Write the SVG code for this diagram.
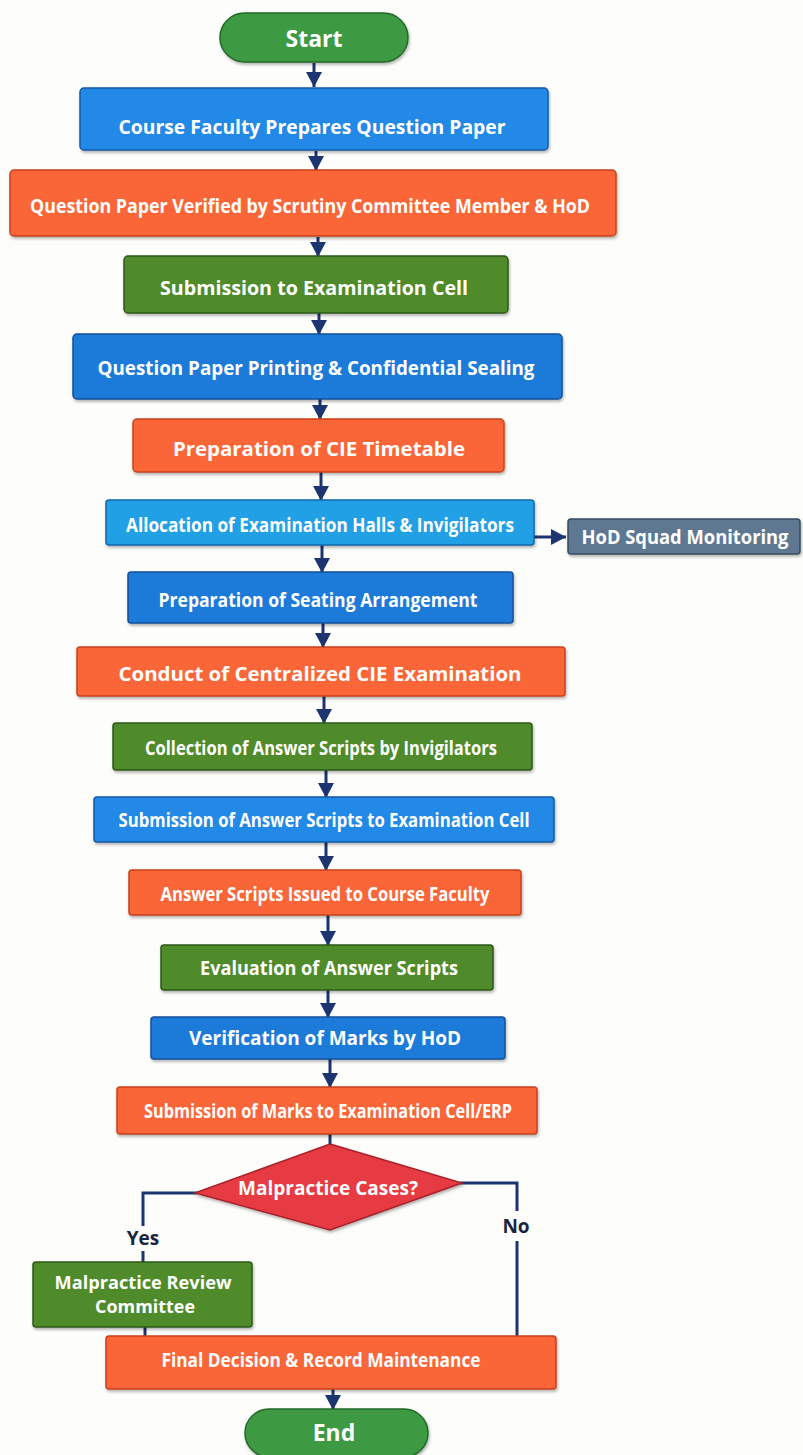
<svg xmlns="http://www.w3.org/2000/svg" width="803" height="1455" viewBox="0 0 803 1455">
<defs>
<marker id="ah" markerUnits="userSpaceOnUse" markerWidth="18" markerHeight="18" refX="15" refY="8" orient="auto">
<path d="M0,0 L15,8 L0,16 Z" fill="#1c3470"/>
</marker>
<filter id="sh" x="-5%" y="-10%" width="110%" height="130%">
<feDropShadow dx="1" dy="2" stdDeviation="1.5" flood-color="#000" flood-opacity="0.3"/>
</filter>
<style>
.t{font-family:"Open Sans","Liberation Sans",sans-serif;font-weight:bold;fill:#fff;text-anchor:middle;dominant-baseline:central;font-size:19px}
.lb{font-family:"Open Sans","Liberation Sans",sans-serif;font-weight:bold;fill:#1a2440;text-anchor:middle;dominant-baseline:central;font-size:19px}
.box{filter:url(#sh);stroke-width:1.5}
.blue{fill:#2189e6;stroke:#1559a8}
.blue2{fill:#1c7ad9;stroke:#12509a}
.lblue{fill:#22a0e6;stroke:#1268a8}
.orange{fill:#fb6639;stroke:#c9421c}
.green{fill:#4f8b2c;stroke:#2f5a17}
.pill{fill:#3e9a42;stroke:#24692a}
.gray{fill:#5e7892;stroke:#384c60}
.red{fill:#e63a43;stroke:#a8222a}
.c{stroke:#1c3470;stroke-width:3;fill:none}
.ca{stroke:#1c3470;stroke-width:3;fill:none;marker-end:url(#ah)}
</style>
</defs>
<rect width="803" height="1455" fill="#fdfdfb"/>

<g id="connectors">
<line class="ca" x1="314" y1="63" x2="314" y2="87"/>
<line class="ca" x1="316" y1="151" x2="316" y2="171"/>
<line class="ca" x1="318" y1="237" x2="318" y2="257"/>
<line class="ca" x1="319" y1="313" x2="319" y2="335"/>
<line class="ca" x1="320" y1="399" x2="320" y2="420"/>
<line class="ca" x1="321" y1="472" x2="321" y2="501"/>
<line class="ca" x1="322" y1="545" x2="322" y2="573"/>
<line class="ca" x1="323" y1="623" x2="323" y2="648"/>
<line class="ca" x1="324" y1="696" x2="324" y2="724"/>
<line class="ca" x1="326" y1="770" x2="326" y2="798"/>
<line class="ca" x1="326" y1="842" x2="326" y2="871"/>
<line class="ca" x1="328" y1="915" x2="328" y2="946"/>
<line class="ca" x1="328" y1="990" x2="328" y2="1018"/>
<line class="ca" x1="330" y1="1059" x2="330" y2="1088"/>
<line class="c" x1="330" y1="1134" x2="330" y2="1146"/>
<line class="ca" x1="534" y1="537" x2="566" y2="537"/>
<path class="c" d="M197,1193 H143 V1226"/>
<line class="c" x1="143" y1="1251" x2="143" y2="1264"/>
<line class="c" x1="145" y1="1326" x2="145" y2="1350"/>
<path class="c" d="M460,1183 H517 V1211"/>
<line class="c" x1="517" y1="1241" x2="517" y2="1337"/>
<line class="ca" x1="333" y1="1389" x2="333" y2="1410"/>
</g>

<g id="start"><rect class="box pill" x="220" y="13" width="188" height="49" rx="24.5"/><text class="t" x="314" y="38" style="font-size:23px">Start</text></g>
<g id="n1"><rect class="box blue" x="80" y="88" width="468" height="62" rx="4"/><text class="t" x="312" y="127" textLength="387" lengthAdjust="spacingAndGlyphs">Course Faculty Prepares Question Paper</text></g>
<g id="n2"><rect class="box orange" x="10" y="170" width="606" height="66" rx="4"/><text class="t" x="310" y="206" textLength="560" lengthAdjust="spacingAndGlyphs">Question Paper Verified by Scrutiny Committee Member &amp; HoD</text></g>
<g id="n3"><rect class="box green" x="124" y="256" width="384" height="57" rx="4"/><text class="t" x="314" y="288" textLength="308" lengthAdjust="spacingAndGlyphs">Submission to Examination Cell</text></g>
<g id="n4"><rect class="box blue2" x="73" y="334" width="489" height="65" rx="4"/><text class="t" x="316" y="368" textLength="437" lengthAdjust="spacingAndGlyphs">Question Paper Printing &amp; Confidential Sealing</text></g>
<g id="n5"><rect class="box orange" x="133" y="419" width="371" height="53" rx="4"/><text class="t" x="319" y="449" textLength="292" lengthAdjust="spacingAndGlyphs">Preparation of CIE Timetable</text></g>
<g id="n6"><rect class="box lblue" x="106" y="500" width="428" height="45" rx="3"/><text class="t" x="320" y="525" textLength="388" lengthAdjust="spacingAndGlyphs">Allocation of Examination Halls &amp; Invigilators</text></g>
<g id="n6b"><rect class="box gray" x="568" y="519" width="232" height="35" rx="3"/><text class="t" x="685" y="537" textLength="207" lengthAdjust="spacingAndGlyphs">HoD Squad Monitoring</text></g>
<g id="n7"><rect class="box blue2" x="128" y="572" width="385" height="51" rx="3"/><text class="t" x="318" y="600" textLength="319" lengthAdjust="spacingAndGlyphs">Preparation of Seating Arrangement</text></g>
<g id="n8"><rect class="box orange" x="77" y="647" width="488" height="49" rx="3"/><text class="t" x="320" y="674" textLength="403" lengthAdjust="spacingAndGlyphs">Conduct of Centralized CIE Examination</text></g>
<g id="n9"><rect class="box green" x="113" y="723" width="419" height="47" rx="3"/><text class="t" x="321" y="748" textLength="352" lengthAdjust="spacingAndGlyphs">Collection of Answer Scripts by Invigilators</text></g>
<g id="n10"><rect class="box blue" x="94" y="797" width="460" height="45" rx="3"/><text class="t" x="324" y="820" textLength="411" lengthAdjust="spacingAndGlyphs">Submission of Answer Scripts to Examination Cell</text></g>
<g id="n11"><rect class="box orange" x="129" y="870" width="392" height="45" rx="3"/><text class="t" x="325" y="894" textLength="329" lengthAdjust="spacingAndGlyphs">Answer Scripts Issued to Course Faculty</text></g>
<g id="n12"><rect class="box green" x="161" y="945" width="332" height="45" rx="3"/><text class="t" x="329" y="968" textLength="258" lengthAdjust="spacingAndGlyphs">Evaluation of Answer Scripts</text></g>
<g id="n13"><rect class="box blue2" x="151" y="1017" width="354" height="42" rx="3"/><text class="t" x="325" y="1038" textLength="272" lengthAdjust="spacingAndGlyphs">Verification of Marks by HoD</text></g>
<g id="n14"><rect class="box orange" x="117" y="1087" width="420" height="47" rx="3"/><text class="t" x="328" y="1111" textLength="368" lengthAdjust="spacingAndGlyphs">Submission of Marks to Examination Cell/ERP</text></g>
<g id="decision"><polygon class="box red" points="330,1144 462,1183 330,1230 195,1193"/><text class="t" x="328" y="1188" textLength="180" lengthAdjust="spacingAndGlyphs">Malpractice Cases?</text></g>
<text class="lb" x="143" y="1238">Yes</text>
<text class="lb" x="516" y="1226">No</text>
<g id="n15"><rect class="box green" x="33" y="1262" width="219" height="65" rx="3"/><text class="t" x="143" y="1282" style="font-size:17px" textLength="177" lengthAdjust="spacingAndGlyphs">Malpractice Review</text><text class="t" x="145" y="1306" style="font-size:17px" textLength="100" lengthAdjust="spacingAndGlyphs">Committee</text></g>
<g id="n16"><rect class="box orange" x="106" y="1336" width="450" height="53" rx="3"/><text class="t" x="321" y="1360" textLength="319" lengthAdjust="spacingAndGlyphs">Final Decision &amp; Record Maintenance</text></g>
<g id="end"><rect class="box pill" x="245" y="1409" width="183" height="48" rx="24"/><text class="t" x="334" y="1432" style="font-size:23px">End</text></g>
</svg>
